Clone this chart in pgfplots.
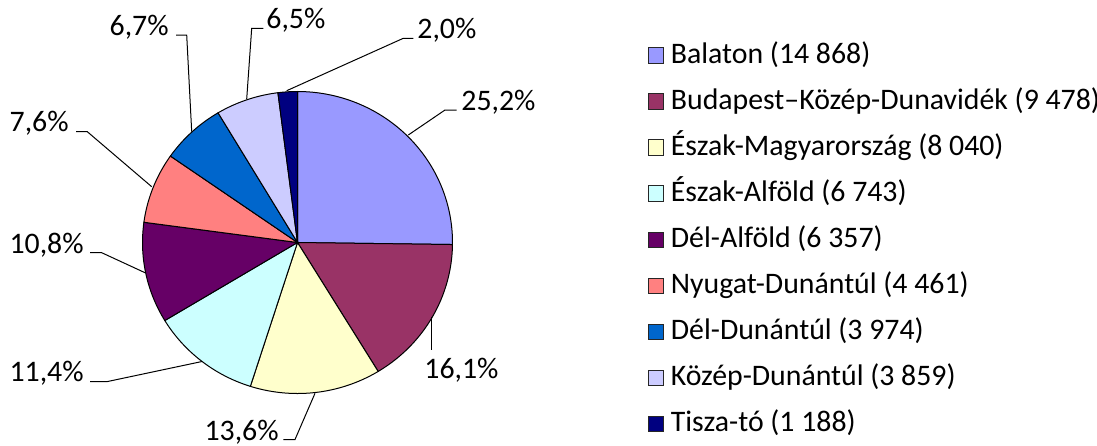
\documentclass[border=0pt]{standalone}
\usepackage{pgfplots}
\pgfplotsset{compat=1.18}
\usepackage{fontspec}
\setmainfont{Carlito}
\definecolor{cA}{HTML}{9999FF}
\definecolor{cB}{HTML}{993366}
\definecolor{cC}{HTML}{FFFFCC}
\definecolor{cD}{HTML}{CCFFFF}
\definecolor{cE}{HTML}{660066}
\definecolor{cF}{HTML}{FF8080}
\definecolor{cG}{HTML}{0066CC}
\definecolor{cH}{HTML}{CCCCFF}
\definecolor{cI}{HTML}{000080}
% values (guests, thousands)
\newcommand{\T}{(14868+9478+8040+6743+6357+4461+3974+3859+1188)}
% #1 cumulative before, #2 value, #3 colour
\newcommand{\slice}[3]{%
  \addplot[fill=#3, draw=black, line width=0.5pt, samples=90, variable=\t,
    domain=90-360*(#1+#2)/\T:90-360*(#1)/\T]
    ({297.5+155*cos(\t)},{242.5-151*sin(\t)}) -- (axis cs:297.5,242.5) -- cycle;}
\newcommand{\legsq}[2]{%
  \addplot[only marks, mark=square*, mark size=3.9pt,
    mark options={fill=#1, draw=black!85, line width=0.4pt}] coordinates {(656,#2)};}
\tikzset{lab/.style={font=\fontsize{14.9}{17}\selectfont, inner sep=0pt}}
\begin{document}
\begin{tikzpicture}
\begin{axis}[
  scale only axis, width=548.5pt, height=222.5pt,
  xmin=0, xmax=1097, ymin=0, ymax=445, y dir=reverse,
  hide axis, clip=false]
\slice{0}{14868}{cA}
\slice{14868}{9478}{cB}
\slice{14868+9478}{8040}{cC}
\slice{14868+9478+8040}{6743}{cD}
\slice{14868+9478+8040+6743}{6357}{cE}
\slice{14868+9478+8040+6743+6357}{4461}{cF}
\slice{14868+9478+8040+6743+6357+4461}{3974}{cG}
\slice{14868+9478+8040+6743+6357+4461+3974}{3859}{cH}
\slice{14868+9478+8040+6743+6357+4461+3974+3859}{1188}{cI}
% leader lines
\addplot[black, line width=0.5pt] coordinates {(408.3,135) (445,110) (456.7,110)};
\addplot[black, line width=0.5pt] coordinates {(431.7,316.7) (431.7,350)};
\addplot[black, line width=0.5pt] coordinates {(315,393.3) (295,439.5) (283.3,439.5)};
\addplot[black, line width=0.5pt] coordinates {(202,361.5) (106.7,381.7) (90,381.7)};
\addplot[black, line width=0.5pt] coordinates {(145,272.7) (101.7,252.7) (90,252.7)};
\addplot[black, line width=0.5pt] coordinates {(151.7,186.7) (87.3,131.7) (76,131.7)};
\addplot[black, line width=0.5pt] coordinates {(191.7,131.7) (186.7,35) (176,35)};
\addplot[black, line width=0.5pt] coordinates {(246.7,99) (251.7,28.3) (263.3,28.3)};
\addplot[black, line width=0.5pt] coordinates {(286.7,90.7) (403.3,38.3) (413.3,38.3)};
% percentage labels
\node[lab, anchor=base west] at (axis cs:461,110) {25,2\%};
\node[lab, anchor=base west] at (axis cs:424,378.3) {16,1\%};
\node[lab, anchor=base east] at (axis cs:279,440) {13,6\%};
\node[lab, anchor=base east] at (axis cs:84,381.7) {11,4\%};
\node[lab, anchor=base east] at (axis cs:84,253) {10,8\%};
\node[lab, anchor=base east] at (axis cs:69,131.7) {7,6\%};
\node[lab, anchor=base east] at (axis cs:169,35) {6,7\%};
\node[lab, anchor=base west] at (axis cs:266,28.3) {6,5\%};
\node[lab, anchor=base west] at (axis cs:417,38.3) {2,0\%};
% legend
\legsq{cA}{55.5}
\legsq{cB}{101.55}
\legsq{cC}{147.6}
\legsq{cD}{193.65}
\legsq{cE}{239.7}
\legsq{cF}{285.75}
\legsq{cG}{331.8}
\legsq{cH}{377.85}
\legsq{cI}{423.9}
\node[lab, anchor=base west] at (axis cs:670.5,63.3) {Balaton (14 868)};
\node[lab, anchor=base west] at (axis cs:670.5,109.35) {Budapest–Közép-Dunavidék (9 478)};
\node[lab, anchor=base west] at (axis cs:670.5,155.4) {Észak-Magyarország (8 040)};
\node[lab, anchor=base west] at (axis cs:670.5,201.45) {Észak-Alföld (6 743)};
\node[lab, anchor=base west] at (axis cs:670.5,247.5) {Dél-Alföld (6 357)};
\node[lab, anchor=base west] at (axis cs:670.5,293.55) {Nyugat-Dunántúl (4 461)};
\node[lab, anchor=base west] at (axis cs:670.5,339.6) {Dél-Dunántúl (3 974)};
\node[lab, anchor=base west] at (axis cs:670.5,385.65) {Közép-Dunántúl (3 859)};
\node[lab, anchor=base west] at (axis cs:670.5,431.7) {Tisza-tó (1 188)};
\end{axis}
\pgfresetboundingbox
\path (current axis.south west) rectangle (current axis.north east);
\end{tikzpicture}
\end{document}
